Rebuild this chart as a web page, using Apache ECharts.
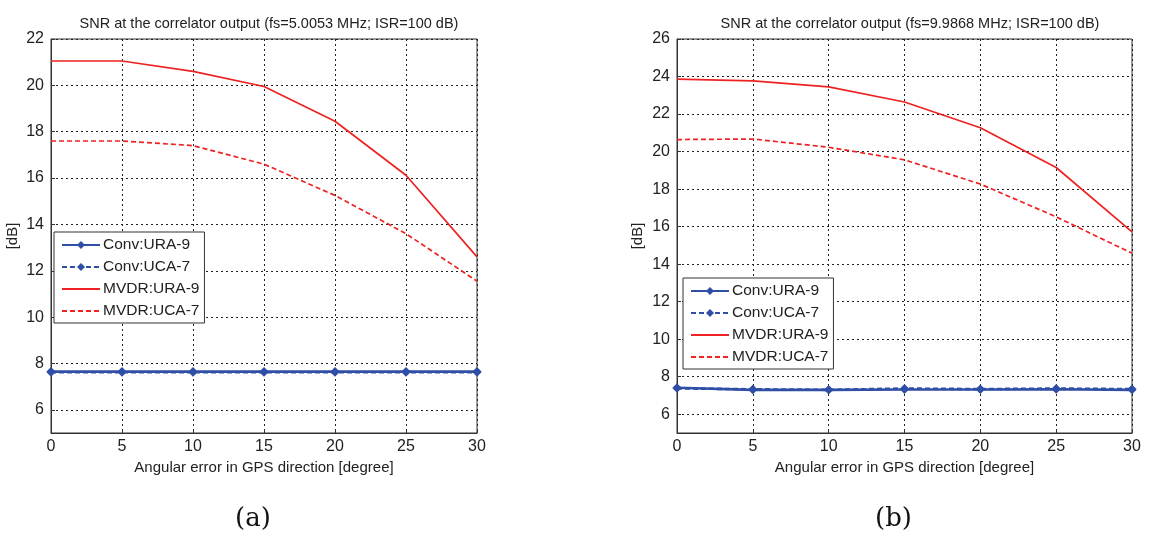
<!DOCTYPE html>
<html>
<head>
<meta charset="utf-8">
<script src="https://cdn.jsdelivr.net/npm/echarts@6/dist/echarts.min.js"></script>
<style>
  html, body { margin: 0; padding: 0; background: #fff; }
  #main { width: 1164px; height: 535px; }
</style>
</head>
<body>
<div id="main"></div>
<script>
var angles = [0, 5, 10, 15, 20, 25, 30];
var seriesNames = ['Conv:URA-9', 'Conv:UCA-7', 'MVDR:URA-9', 'MVDR:UCA-7'];

// (a) fs=5.0053 MHz
var convUraA = [7.65, 7.65, 7.65, 7.65, 7.65, 7.65, 7.65];
var convUcaA = [7.62, 7.62, 7.62, 7.62, 7.62, 7.62, 7.62];
var mvdrUraA = [21.05, 21.05, 20.6, 19.95, 18.45, 16.12, 12.6];
var mvdrUcaA = [17.6, 17.6, 17.4, 16.6, 15.25, 13.6, 11.55];
var yTicksA = [6, 8, 10, 12, 14, 16, 18, 20, 22];

// (b) fs=9.9868 MHz
var convUraB = [7.41, 7.3, 7.3, 7.32, 7.32, 7.33, 7.3];
var convUcaB = [7.38, 7.33, 7.3, 7.37, 7.34, 7.37, 7.34];
var mvdrUraB = [23.86, 23.77, 23.45, 22.64, 21.27, 19.15, 15.72];
var mvdrUcaB = [20.64, 20.67, 20.23, 19.56, 18.27, 16.52, 14.58];
var yTicksB = [6, 8, 10, 12, 14, 16, 18, 20, 22, 24, 26];

var titles = ['SNR at the correlator output (fs=5.0053 MHz; ISR=100 dB)',
              'SNR at the correlator output (fs=9.9868 MHz; ISR=100 dB)'];

var font = 'Liberation Sans, Arial, sans-serif';
var blue = '#2f4ea6';
var red = '#ee2222';
var gridDash = { color: '#222', width: 1, type: [2, 3] };

var myChart = echarts.init(document.getElementById('main'), null, { renderer: 'canvas' });

function makeX(idx) {
    return {
        type: 'value', gridIndex: idx, min: 0, max: 30, interval: 5,
        name: 'Angular error in GPS direction [degree]',
        nameLocation: 'middle', nameGap: 22,
        nameTextStyle: { fontFamily: font, fontSize: 15, color: '#222' },
        axisLine: { lineStyle: { color: '#333', width: 1 } },
        axisTick: { inside: true, length: 4, lineStyle: { color: '#333' } },
        axisLabel: { fontFamily: font, fontSize: 16, color: '#222', margin: 6 },
        splitLine: { show: true, lineStyle: gridDash }
    };
}

function makeY(idx, maxV, ticks, gap) {
    return {
        type: 'value', gridIndex: idx, min: 5, max: maxV,
        name: '[dB]', nameLocation: 'middle', nameGap: gap, nameRotate: 90,
        nameTextStyle: { fontFamily: font, fontSize: 15, color: '#222' },
        axisLine: { show: true, lineStyle: { color: '#333', width: 1 } },
        axisTick: { show: true, inside: true, length: 4, customValues: ticks, lineStyle: { color: '#333' } },
        axisLabel: { fontFamily: font, fontSize: 16, color: '#222', margin: 7, customValues: ticks },
        splitLine: { show: true, lineStyle: gridDash }
    };
}

function makeSeries(idx, conv1, conv2, mvdr1, mvdr2) {
    var sym = { symbol: 'diamond', symbolSize: 9, showSymbol: true };
    return [
        Object.assign({ name: seriesNames[0], type: 'line', xAxisIndex: idx, yAxisIndex: idx,
            data: angles.map(function (a, i) { return [a, conv1[i]]; }),
            itemStyle: { color: blue }, lineStyle: { color: blue, width: 2.6 } }, sym),
        Object.assign({ name: seriesNames[1], type: 'line', xAxisIndex: idx, yAxisIndex: idx,
            data: angles.map(function (a, i) { return [a, conv2[i]]; }),
            itemStyle: { color: blue }, lineStyle: { color: blue, width: 2.6, type: [5, 3] } }, sym),
        { name: seriesNames[2], type: 'line', xAxisIndex: idx, yAxisIndex: idx, showSymbol: false, symbol: 'none',
            data: angles.map(function (a, i) { return [a, mvdr1[i]]; }),
            itemStyle: { color: red }, lineStyle: { color: red, width: 1.7 } },
        { name: seriesNames[3], type: 'line', xAxisIndex: idx, yAxisIndex: idx, showSymbol: false, symbol: 'none',
            data: angles.map(function (a, i) { return [a, mvdr2[i]]; }),
            itemStyle: { color: red }, lineStyle: { color: red, width: 1.7, type: [5, 3] } }
    ];
}

function makeLegend(left, top) {
    return {
        data: [
            { name: seriesNames[0] },
            { name: seriesNames[1] },
            { name: seriesNames[2], itemStyle: { opacity: 0 } },
            { name: seriesNames[3], itemStyle: { opacity: 0 } }
        ],
        orient: 'vertical', left: left, top: top,
        itemWidth: 38, itemHeight: 10, itemGap: 6,
        padding: [5, 5, 4, 7],
        backgroundColor: '#fff', borderColor: '#333', borderWidth: 1, borderRadius: 0,
        textStyle: { fontFamily: font, fontSize: 15.5, color: '#222', padding: [0, 0, 0, -2] },
        selectedMode: false
    };
}

var titleStyle = { fontFamily: font, fontSize: 14.5, fontWeight: 'normal', color: '#222' };

var option = {
    animation: false,
    backgroundColor: '#fff',
    title: [
        { text: titles[0], left: 264, top: 11, textAlign: 'center', textStyle: titleStyle },
        { text: titles[1], left: 905, top: 11, textAlign: 'center', textStyle: titleStyle }
    ],
    grid: [
        { left: 51, top: 39, width: 426, height: 394, show: true, borderColor: '#333', borderWidth: 1, backgroundColor: 'transparent' },
        { left: 677, top: 39, width: 455, height: 394, show: true, borderColor: '#333', borderWidth: 1, backgroundColor: 'transparent' }
    ],
    xAxis: [makeX(0), makeX(1)],
    yAxis: [makeY(0, 22, yTicksA, 31), makeY(1, 26, yTicksB, 32)],
    legend: [makeLegend(54, 232), makeLegend(683, 278)],
    series: makeSeries(0, convUraA, convUcaA, mvdrUraA, mvdrUcaA)
        .concat(makeSeries(1, convUraB, convUcaB, mvdrUraB, mvdrUcaB)),
    graphic: [
        { type: 'text', left: 235, top: 506, style: { text: '(a)', font: '26px "DejaVu Serif", serif', fill: '#111' } },
        { type: 'text', left: 875, top: 506, style: { text: '(b)', font: '26px "DejaVu Serif", serif', fill: '#111' } }
    ]
};

myChart.setOption(option);
</script>
</body>
</html>
